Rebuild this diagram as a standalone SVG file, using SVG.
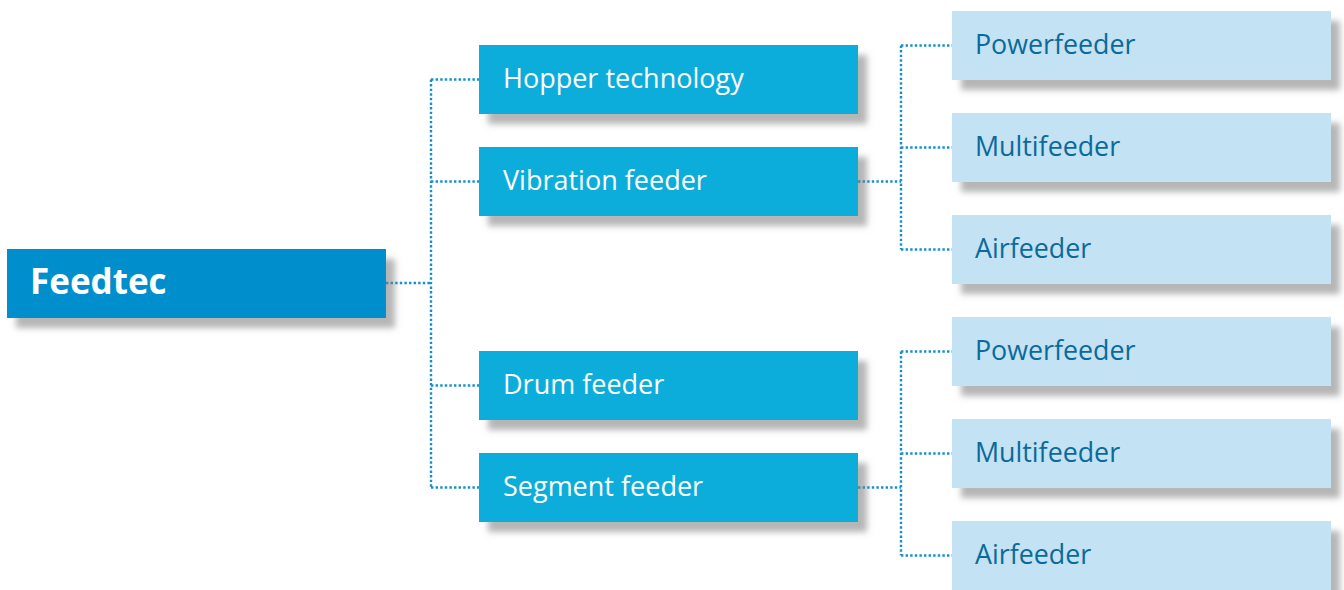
<svg xmlns="http://www.w3.org/2000/svg" width="1344" height="590" viewBox="0 0 1344 590">
<defs>
<filter id="sh" x="-5%" y="-20%" width="115%" height="160%">
<feDropShadow dx="9" dy="10" stdDeviation="3" flood-color="#7a7a7a" flood-opacity="0.55"/>
</filter>
<style>
.root{fill:#008fcc;filter:url(#sh)}
.l2{fill:#0aaddb;filter:url(#sh)}
.l3{fill:#c3e2f4;filter:url(#sh)}
.t1{font-family:"Open Sans","Noto Sans",sans-serif;font-weight:bold;font-size:35px;fill:#ffffff}
.t2{font-family:"Open Sans","Noto Sans",sans-serif;font-size:27px;fill:#ffffff}
.t3{font-family:"Open Sans","Noto Sans",sans-serif;font-size:26.8px;fill:#0b6a99}
.c{fill:none;stroke:#1590cf;stroke-width:2.4;stroke-dasharray:2.4 2.2}
</style>
</defs>
<rect width="1344" height="590" fill="#ffffff"/>
<g id="connectors">
<path class="c" d="M386 283 H431 M431 79.5 V487.5 M431 79.5 H479 M431 181.5 H479 M431 385.5 H479 M431 487.5 H479"/>
<path class="c" d="M858 181.5 H901 M901 45.5 V249.5 M901 45.5 H952 M901 147.5 H952 M901 249.5 H952"/>
<path class="c" d="M858 487.5 H901 M901 351.5 V555.5 M901 351.5 H952 M901 453.5 H952 M901 555.5 H952"/>
</g>
<g id="feedtec"><rect class="root" x="7" y="249" width="379" height="69"/><text class="t1" x="30" y="294">Feedtec</text></g>
<g id="hopper"><rect class="l2" x="479" y="45" width="379" height="69"/><text class="t2" x="503" y="88">Hopper technology</text></g>
<g id="vibration"><rect class="l2" x="479" y="147" width="379" height="69"/><text class="t2" x="503" y="190">Vibration feeder</text></g>
<g id="drum"><rect class="l2" x="479" y="351" width="379" height="69"/><text class="t2" x="503" y="394">Drum feeder</text></g>
<g id="segment"><rect class="l2" x="479" y="453" width="379" height="69"/><text class="t2" x="503" y="496">Segment feeder</text></g>
<g id="powerfeeder1"><rect class="l3" x="952" y="11" width="379" height="69"/><text class="t3" x="975" y="54">Powerfeeder</text></g>
<g id="multifeeder1"><rect class="l3" x="952" y="113" width="379" height="69"/><text class="t3" x="975" y="156">Multifeeder</text></g>
<g id="airfeeder1"><rect class="l3" x="952" y="215" width="379" height="69"/><text class="t3" x="975" y="258">Airfeeder</text></g>
<g id="powerfeeder2"><rect class="l3" x="952" y="317" width="379" height="69"/><text class="t3" x="975" y="360">Powerfeeder</text></g>
<g id="multifeeder2"><rect class="l3" x="952" y="419" width="379" height="69"/><text class="t3" x="975" y="462">Multifeeder</text></g>
<g id="airfeeder2"><rect class="l3" x="952" y="521" width="379" height="69"/><text class="t3" x="975" y="564">Airfeeder</text></g>
</svg>
